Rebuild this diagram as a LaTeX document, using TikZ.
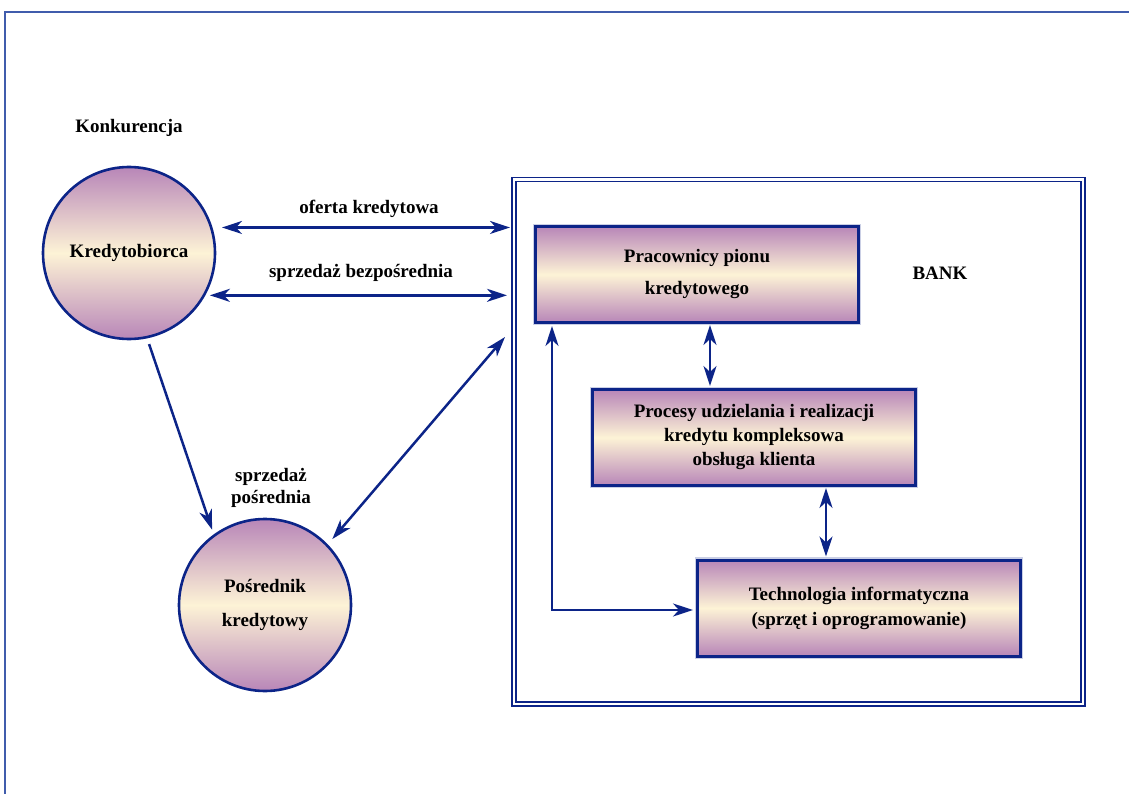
\documentclass[tikz,border=0pt]{standalone}
\usepackage{fontspec}
\setmainfont{Liberation Serif}
\usetikzlibrary{arrows.meta,calc}
\definecolor{navy}{RGB}{12,36,136}
\definecolor{framecol}{RGB}{64,92,172}
\definecolor{lilac}{RGB}{184,134,184}
\definecolor{cream}{RGB}{253,243,214}
\newcommand{\lbltext}{\bfseries\fontsize{19}{23}\selectfont}
\begin{document}
\begin{tikzpicture}[x=1pt,y=-1pt,
  >={Stealth[length=20pt,width=13pt,inset=6pt]},
  ball/.style={circle, draw=navy, line width=2.6pt, top color=lilac,
    bottom color=lilac, middle color=cream, minimum size=172pt,
    inner sep=0pt, align=center, font=\lbltext},
  panel/.style={rectangle, draw=navy, line width=3pt, top color=lilac,
    bottom color=lilac, middle color=cream, minimum width=323pt,
    minimum height=96pt, inner sep=0pt, align=center, font=\lbltext,
    preaction={draw=navy!22, line width=5.5pt}},
  lbl/.style={inner sep=0pt, align=center, font=\lbltext},
  link/.style={draw=navy, line width=2.5pt}]
\useasboundingbox (0,0) rectangle (1129,794);

% page frame
\draw[framecol, line width=1.8pt] (5,794) -- (5,12) -- (1129,12);

% bank enclosure
\node[draw=navy, line width=1.8pt, double, double distance=2.2pt,
  minimum width=569pt, minimum height=524.5pt, inner sep=0pt, outer sep=0pt]
  (bank) at (798.5,441.75) {};
\node[lbl] (banklbl) at (940,273) {BANK};

% participants
\node[ball] (K) at (129,253) {Kredytobiorca};
\node[ball] (P) at (265,605) {Pośrednik\\[11pt]kredytowy};

% bank units
\node[panel] (pr)   at (697,274.5) {Pracownicy pionu\\[9pt]kredytowego};
\node[panel] (proc) at (754,437.5) {Procesy udzielania i realizacji\\[1pt]kredytu kompleksowa\\[1pt]obsługa klienta};
\node[panel] (tech) at (859,608)   {Technologia informatyczna\\[2pt](sprzęt i oprogramowanie)};

% labels
\node[lbl] (konk)   at (129,128) {Konkurencja};
\node[lbl] (oferta) at (369,209) {oferta kredytowa};
\node[lbl] (bezp)   at (361,273) {sprzedaż bezpośrednia};
\node[lbl] (posr)   at (271,488) {sprzedaż\\[-1pt]pośrednia};

% connectors
\coordinate (bankin) at (505,337);
\coordinate (elbow) at (552,610);
\draw[link,<->,shorten <=9.5pt,shorten >=4pt] (K.17) -- (K.17 -| bank.west);
\draw[link,<->,shorten <=4.5pt,shorten >=7pt] (K.-29) -- (K.-29 -| bank.west);
\draw[link,->,shorten <=6pt,shorten >=5pt] (K.-78) -- (P.126);
\draw[link,<->,shorten <=7pt] (P.44) -- (bankin);
\draw[link,<->,shorten <=1pt,shorten >=2pt] (pr.south -| 710,0) -- (proc.north -| 710,0);
\draw[link,<->,shorten <=1pt,shorten >=2pt] (proc.south -| 826,0) -- (tech.north -| 826,0);
\draw[link,<->,shorten <=2pt,shorten >=3pt] (pr.south -| elbow) -- (elbow) -- (elbow -| tech.west);
\end{tikzpicture}
\end{document}
